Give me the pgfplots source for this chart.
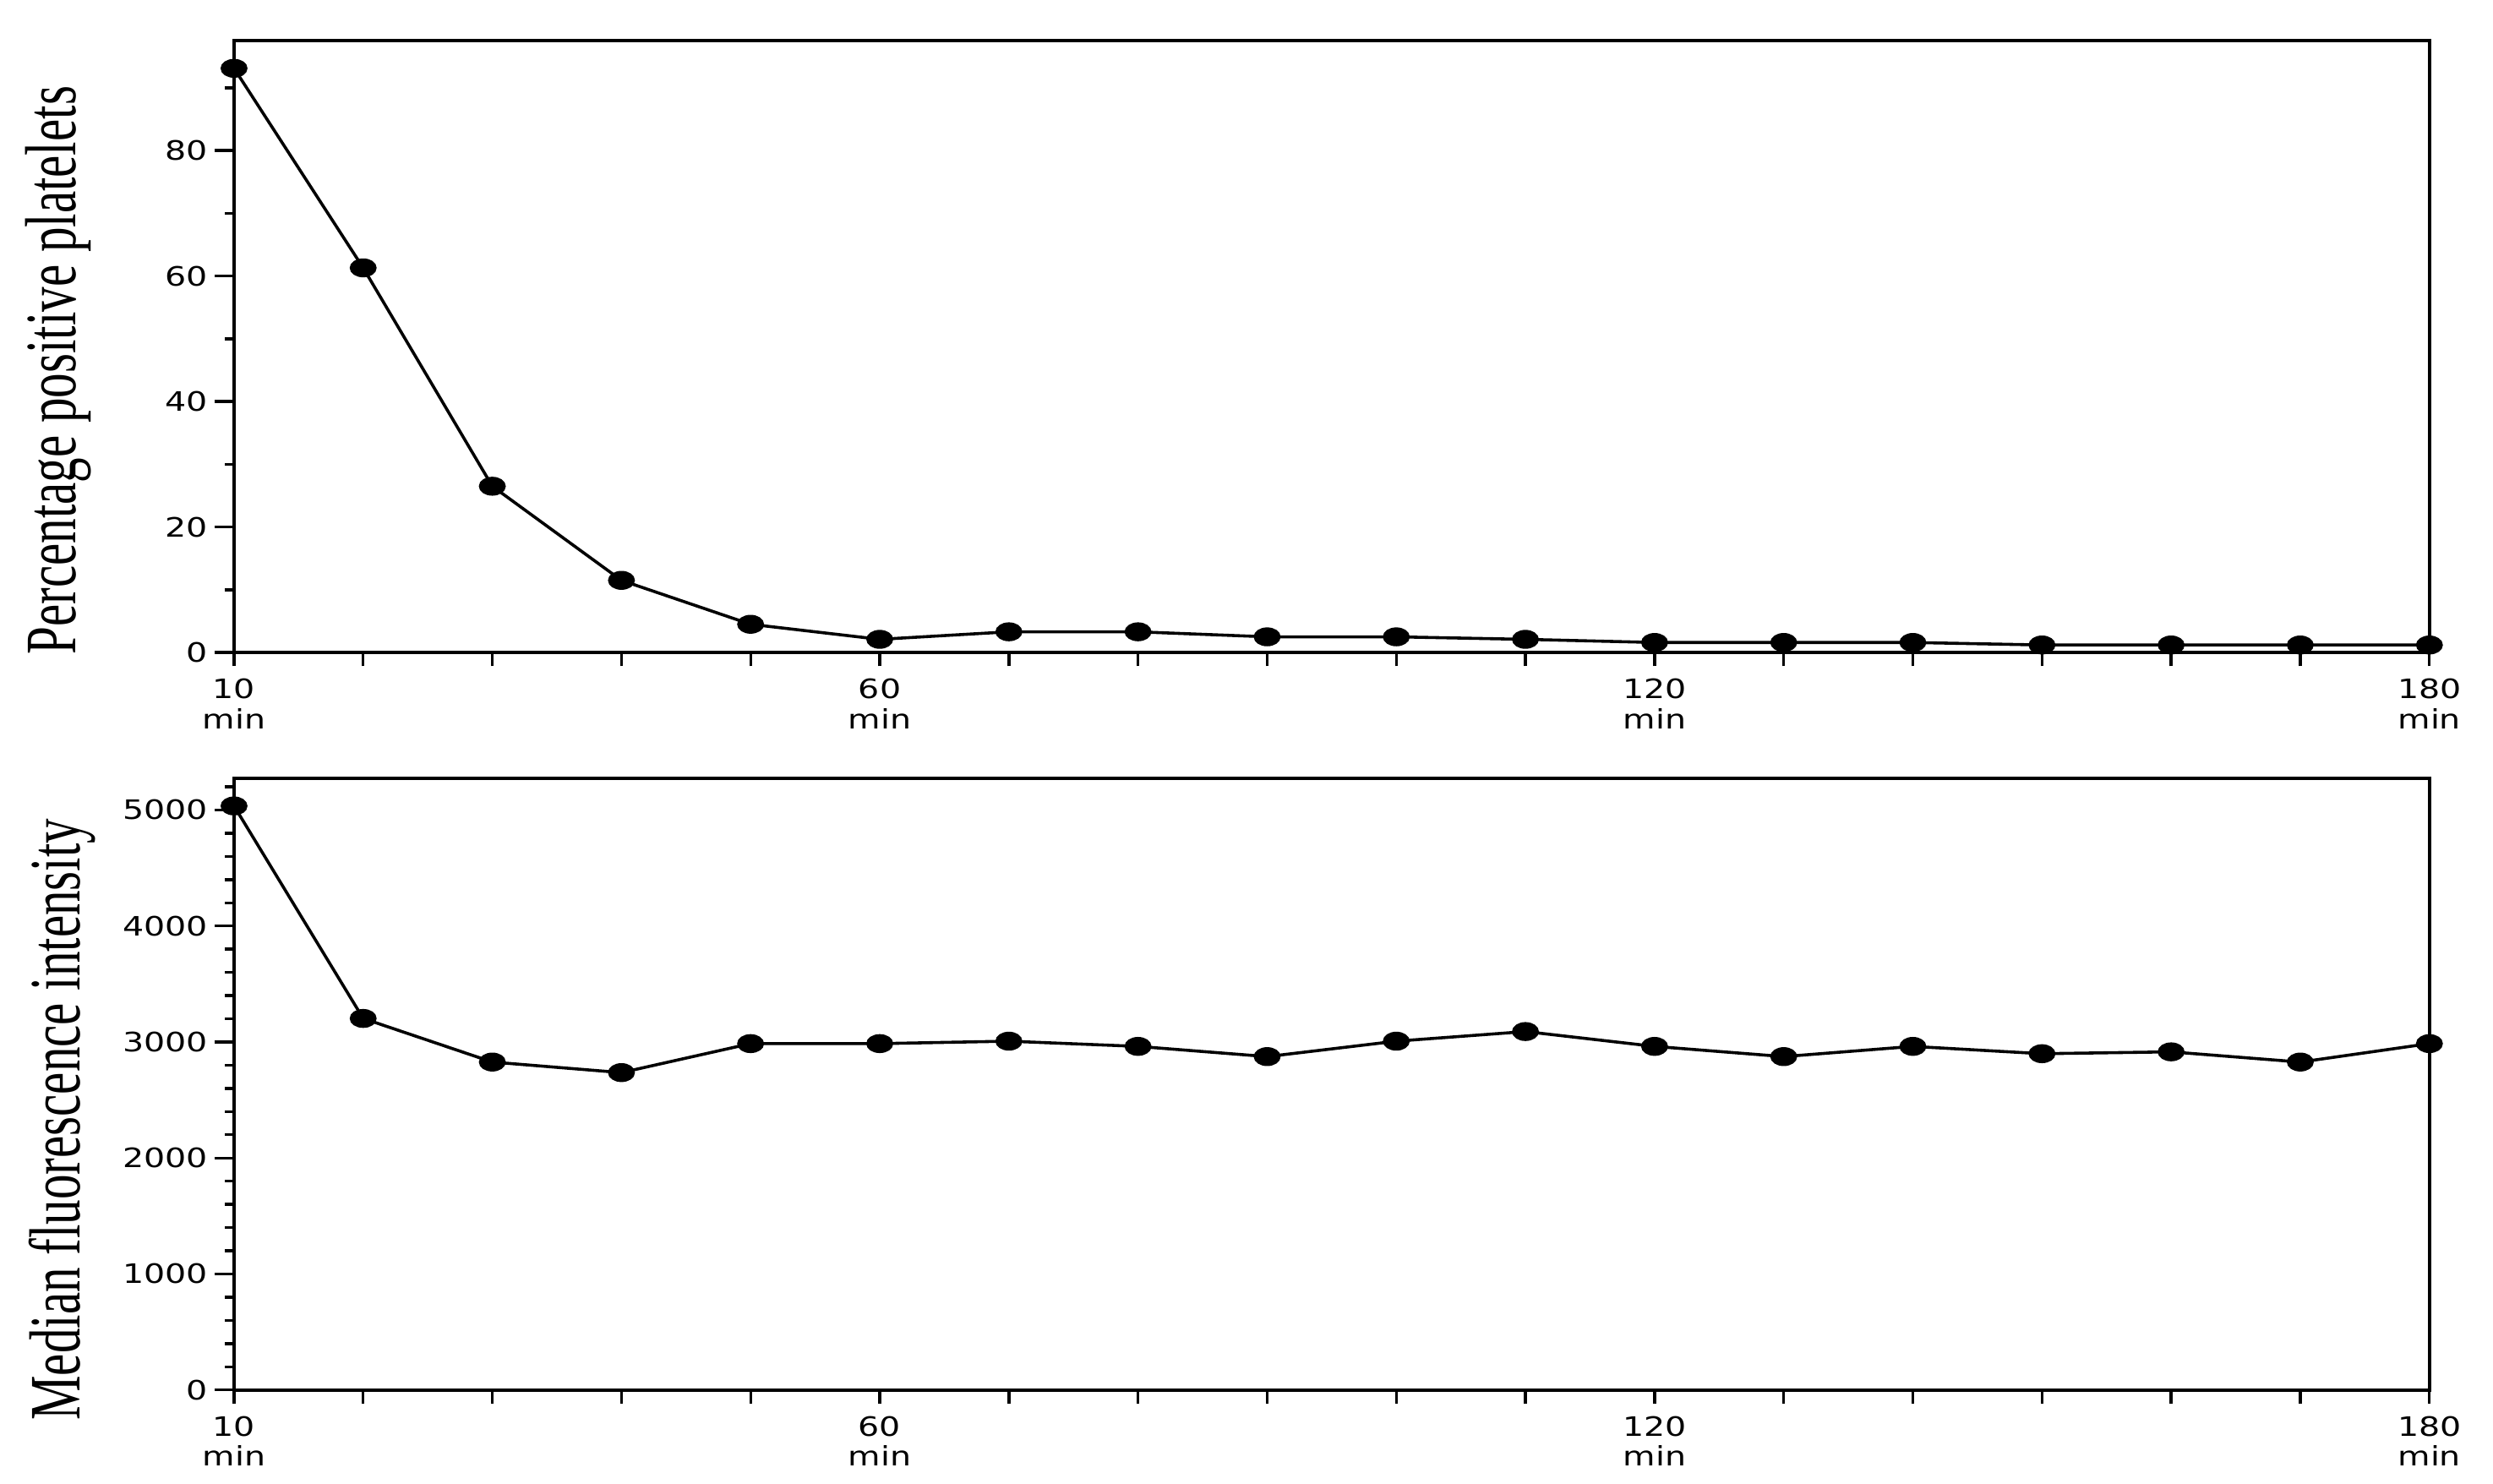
\documentclass[border=0pt]{standalone}
\usepackage{fontspec}
\setmainfont{Liberation Serif}
\newfontfamily\tickfont{DejaVu Sans}
\usepackage{graphicx}
\usepackage{pgfplots}
\pgfplotsset{compat=1.18}
\newcommand\xl[1]{\scalebox{1.25}[1]{\tickfont\fontsize{8.4}{9.5}\selectfont\begin{tabular}{@{}c@{}}#1\\min\end{tabular}}}
\pgfplotstableread{
t p m
10 93.1 5035
20 61.3 3203
30 26.5 2827
40 11.5 2736
50 4.5 2986
60 2.1 2986
70 3.3 3007
80 3.3 2962
90 2.5 2874
100 2.5 3007
110 2.1 3090
120 1.6 2962
130 1.6 2874
140 1.6 2962
150 1.2 2899
160 1.2 2915
170 1.2 2827
180 1.2 2986
}\datatable
\begin{document}
\begin{tikzpicture}
\useasboundingbox (0,0) rectangle (784pt,466.5pt);
\pgfplotsset{
  myaxis/.style={
    scale only axis,
    width=690.4pt, height=192.4pt,
    xmin=10, xmax=180,
    axis line style={line width=1pt},
    every tick/.style={line width=0.9pt, black},
    tick align=outside,
    tick pos=left,
    xtick={10,20,...,180},
    xticklabels={{\xl{10}},,,,,{\xl{60}},,,,,,{\xl{120}},,,,,,{\xl{180}}},
    xtick style={/pgfplots/major tick length=4.3pt},
    major tick length=6.1pt,
    minor tick length=2.9pt,
    xticklabel style={inner sep=1pt, yshift=-0.5pt},
    yticklabel={\scalebox{1.25}[1]{\tickfont\fontsize{8.4}{9.5}\selectfont\pgfmathprintnumber[assume math mode=true,1000 sep={}]{\tick}}},
    yticklabel style={inner sep=2pt},
    ylabel style={anchor=center},
  },
  myplot/.style={black, line width=0.95pt, mark=*, mark size=2.5pt, mark options={xscale=1.5, solid, fill=black}},
}
\begin{axis}[myaxis,
  at={(73.6pt,261.3pt)}, anchor=south west,
  ymin=0, ymax=97.5,
  ytick={0,20,40,60,80},
  minor ytick={10,30,50,70,90},
  ylabel={\scalebox{1}[1.45]{\fontsize{15.7}{18}\selectfont Percentage positive platelets}},
  ylabel style={at={(axis description cs:-0.0802,0.461)}},
  clip=false,
]
\addplot[myplot] table[x=t, y=p] {\datatable};
\end{axis}
\begin{axis}[myaxis,
  at={(73.6pt,29.4pt)}, anchor=south west,
  ymin=0, ymax=5275,
  ytick={0,1000,...,5000},
  minor ytick={200,400,...,5200},
  ylabel={\scalebox{1}[1.45]{\fontsize{15.7}{18}\selectfont Median fluorescence intensity}},
  ylabel style={at={(axis description cs:-0.0784,0.442)}},
  clip=false,
]
\addplot[myplot] table[x=t, y=m] {\datatable};
\end{axis}
\end{tikzpicture}
\end{document}
